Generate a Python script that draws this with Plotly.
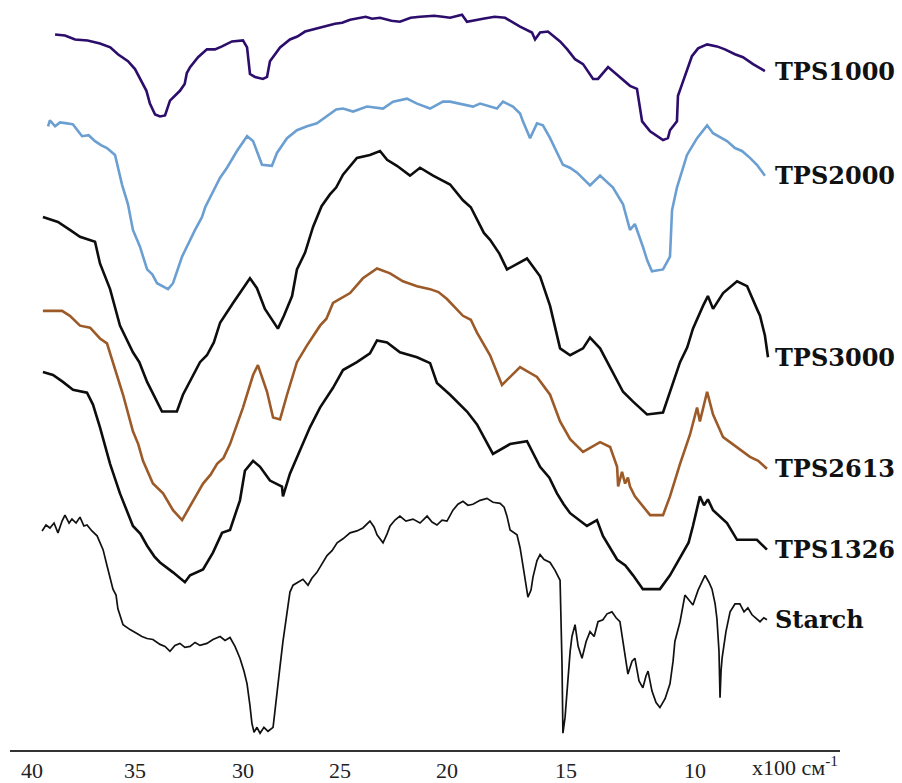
import numpy as np
import plotly.graph_objects as go

# Wavenumber axis (x100 cm^-1) and where each labelled tick sits along the axis (fraction of its length)
TICK_WN = [40, 35, 30, 25, 20, 15, 10]
TICK_FRAC = [0.0265, 0.1506, 0.2807, 0.3976, 0.5265, 0.6699, 0.8253]

# FTIR transmittance traces (arbitrary units, stacked)
TPS1000_WN = [38.88, 38.40, 37.91, 37.30, 36.70, 36.20, 35.83, 35.34, 35.00, 34.63, 34.47, 34.31, 34.07, 33.84,
              33.61, 33.38, 32.92, 32.70, 32.60, 32.45, 32.08, 31.67, 31.30, 30.97, 30.51, 30.00, 29.79, 29.64,
              29.38, 28.97, 28.76, 28.61, 28.09, 27.58, 27.20, 26.80, 26.40, 26.03, 25.26, 24.90, 24.53, 23.80,
              23.50, 23.13, 22.60, 22.20, 21.70, 21.26, 20.60, 20.20, 19.87, 19.37, 19.16, 18.49, 18.00, 17.56,
              16.93, 16.43, 16.30, 16.09, 15.76, 15.25, 14.95, 14.65, 14.34, 13.95, 13.76, 13.37, 12.98, 12.52,
              12.25, 12.05, 11.74, 11.47, 11.24, 11.05, 10.97, 10.70, 10.66, 10.47, 10.31, 10.12, 9.88, 9.53,
              9.15, 8.84, 8.45, 8.14, 7.75, 7.29]
TPS1000_T = [72.5, 72.4, 72.0, 71.9, 71.6, 71.2, 70.5, 69.8, 69.0, 67.5, 66.8, 65.5, 64.4, 64.2,
             64.3, 65.8, 66.8, 67.5, 68.6, 69.2, 70.2, 71.0, 71.0, 71.3, 71.8, 71.9, 71.2, 68.5,
             68.2, 68.0, 68.2, 69.8, 71.2, 72.0, 72.3, 72.8, 73.0, 73.2, 73.6, 73.7, 74.0, 74.3,
             74.1, 74.2, 73.9, 73.8, 74.2, 74.3, 74.4, 74.3, 74.2, 74.5, 73.8, 74.1, 74.3, 74.2,
             73.3, 72.7, 72.0, 72.7, 72.8, 71.8, 71.0, 70.0, 69.5, 68.0, 68.0, 69.2, 68.3, 67.3,
             67.0, 63.7, 62.7, 62.2, 61.8, 62.0, 62.8, 63.7, 66.3, 67.7, 69.0, 70.3, 71.1, 71.5,
             71.3, 71.0, 70.5, 70.2, 69.5, 68.8]

TPS2000_WN = [39.22, 39.13, 38.88, 38.64, 38.30, 38.01, 37.57, 37.25, 36.94, 36.65, 36.36, 35.97, 35.63, 35.34,
              35.10, 34.77, 34.44, 34.20, 33.98, 33.47, 33.24, 32.82, 32.22, 31.90, 31.75, 31.53, 31.06, 30.74,
              30.28, 29.79, 29.48, 29.02, 28.51, 28.25, 27.73, 27.22, 26.70, 26.19, 25.52, 25.20, 24.86, 24.39,
              23.74, 22.99, 22.52, 21.87, 21.40, 20.79, 20.19, 19.87, 18.91, 18.61, 17.90, 17.65, 17.23, 16.93,
              16.81, 16.51, 16.22, 15.97, 15.67, 15.13, 14.85, 14.57, 14.07, 13.68, 13.18, 12.79, 12.52, 12.33,
              12.02, 11.85, 11.67, 11.24, 10.97, 10.89, 10.70, 10.31, 9.92, 9.53, 9.30, 8.76, 8.45, 8.18,
              7.87, 7.60, 7.29]
TPS2000_T = [63.2, 63.8, 63.2, 63.6, 63.5, 63.4, 62.2, 62.3, 61.7, 61.3, 61.0, 60.3, 57.3, 55.3,
             52.7, 51.0, 48.7, 48.2, 47.3, 46.7, 47.3, 50.0, 52.7, 54.0, 55.0, 56.0, 58.0, 59.0,
             60.7, 62.2, 61.7, 59.3, 59.2, 60.5, 62.0, 62.8, 63.2, 63.5, 64.5, 64.9, 65.0, 64.7,
             65.2, 65.0, 65.7, 66.0, 65.5, 65.0, 65.7, 65.7, 65.2, 65.5, 65.0, 65.7, 65.2, 64.5,
             63.7, 62.0, 63.5, 63.3, 62.0, 59.3, 59.0, 58.5, 57.2, 58.2, 57.0, 55.3, 52.7, 53.3,
             51.0, 49.6, 48.5, 48.7, 50.0, 54.7, 57.0, 60.3, 62.0, 63.3, 62.5, 61.7, 61.0, 60.7,
             60.0, 59.3, 58.2]

TPS3000_WN = [39.47, 38.74, 38.16, 37.67, 36.94, 36.70, 36.21, 35.87, 35.73, 35.10, 34.80, 34.44, 34.07, 33.75,
              33.06, 32.78, 31.99, 31.67, 31.35, 31.06, 30.46, 30.14, 29.64, 29.28, 28.87, 28.20, 27.89, 27.47,
              27.22, 26.80, 26.39, 25.95, 25.52, 25.20, 24.86, 24.21, 23.60, 23.13, 22.80, 22.34, 21.73, 21.26,
              20.65, 19.87, 19.33, 19.00, 18.74, 18.45, 18.19, 17.80, 17.48, 16.64, 16.09, 15.67, 15.25, 14.84,
              14.34, 14.07, 13.68, 13.18, 12.79, 12.40, 11.86, 11.24, 10.97, 10.58, 10.30, 10.08, 9.69, 9.50,
              9.30, 8.91, 8.37, 7.98, 7.60, 7.48, 7.29, 7.17]
TPS3000_T = [54.0, 53.5, 52.7, 52.0, 51.5, 49.3, 46.7, 44.2, 43.0, 40.3, 39.3, 37.3, 35.7, 34.3,
             34.3, 36.0, 39.3, 40.0, 41.3, 43.3, 45.3, 46.3, 47.8, 46.8, 44.7, 42.7, 44.0, 46.0,
             48.7, 50.4, 53.0, 55.1, 56.3, 57.0, 58.3, 60.0, 60.3, 60.7, 59.8, 59.2, 58.2, 59.0,
             58.2, 57.3, 55.7, 55.0, 53.7, 52.4, 51.7, 50.3, 48.7, 49.8, 48.0, 45.0, 40.7, 40.0,
             40.7, 41.8, 40.7, 38.2, 36.3, 35.3, 34.0, 34.2, 36.3, 39.3, 40.8, 42.7, 45.0, 46.0,
             44.7, 46.3, 47.5, 47.0, 44.7, 44.0, 42.0, 39.8]

TPS2613_WN = [39.47, 38.54, 38.16, 37.67, 37.18, 36.70, 36.36, 35.97, 35.58, 35.10, 34.85, 34.63, 34.17, 33.70,
              33.24, 32.82, 32.45, 31.85, 31.50, 31.20, 30.90, 30.60, 30.00, 29.48, 29.23, 28.76, 28.45, 28.09,
              27.73, 27.22, 26.70, 26.03, 25.70, 25.36, 24.53, 23.93, 23.27, 22.66, 22.06, 21.40, 20.79, 20.40,
              20.00, 19.33, 19.00, 18.74, 18.19, 17.69, 16.93, 16.22, 15.67, 15.25, 14.84, 14.34, 13.68, 13.29,
              13.02, 12.98, 12.83, 12.71, 12.60, 12.52, 12.33, 11.74, 11.24, 10.97, 10.58, 10.19, 9.92, 9.81,
              9.53, 9.30, 8.91, 8.37, 7.87, 7.55, 7.21]
TPS2613_T = [44.5, 44.5, 44.0, 43.0, 42.8, 41.7, 41.2, 38.7, 36.0, 32.3, 31.0, 29.3, 27.0, 26.0,
             24.3, 23.3, 24.7, 27.0, 27.9, 29.0, 29.6, 31.0, 34.7, 38.0, 39.0, 36.3, 33.7, 33.5,
             36.0, 39.3, 41.0, 43.0, 43.7, 45.3, 46.3, 47.8, 48.8, 48.3, 47.5, 47.0, 46.7, 46.4,
             45.7, 44.0, 43.6, 42.3, 40.0, 37.0, 38.8, 37.8, 36.0, 33.3, 31.5, 30.2, 31.2, 30.7,
             28.7, 26.7, 28.2, 27.0, 27.6, 26.7, 25.7, 23.8, 23.8, 25.7, 29.0, 32.0, 34.7, 33.3,
             36.3, 34.0, 31.7, 30.7, 29.7, 29.3, 28.5]

TPS1326_WN = [39.47, 38.98, 38.50, 38.01, 37.33, 37.04, 36.70, 36.21, 35.73, 35.10, 34.75, 34.44, 34.10, 33.84,
              33.24, 32.69, 32.45, 31.85, 31.39, 30.97, 30.60, 30.14, 29.90, 29.48, 29.12, 28.61, 27.99, 27.94,
              27.58, 27.06, 26.55, 26.03, 25.36, 24.86, 24.21, 23.60, 23.27, 22.80, 22.20, 21.40, 20.79, 20.47,
              19.87, 19.16, 18.74, 18.07, 17.35, 16.64, 16.09, 15.70, 15.38, 15.10, 14.84, 14.19, 13.80, 13.57,
              13.02, 12.70, 12.40, 12.02, 11.36, 10.97, 10.47, 10.25, 10.08, 9.81, 9.65, 9.50, 9.30, 8.76,
              8.37, 7.60, 7.21]
TPS1326_T = [38.3, 38.0, 37.3, 36.5, 36.2, 35.0, 32.7, 29.0, 26.0, 22.7, 21.9, 20.7, 19.6, 19.0,
             18.0, 17.0, 17.7, 18.3, 20.0, 22.0, 22.3, 25.3, 28.3, 29.3, 28.7, 27.3, 26.7, 25.7,
             28.0, 30.3, 32.7, 34.7, 36.7, 38.5, 39.3, 40.2, 41.5, 41.3, 40.3, 39.8, 39.2, 37.2,
             36.0, 34.3, 33.0, 30.0, 31.0, 31.3, 28.7, 27.6, 26.0, 24.9, 24.0, 22.7, 23.3, 21.7,
             19.3, 18.7, 17.7, 16.3, 16.3, 17.7, 20.0, 21.0, 22.7, 25.7, 24.8, 25.4, 24.3, 23.0,
             21.3, 21.3, 20.3]

STARCH_WN = [39.51, 39.32, 39.13, 38.93, 38.74, 38.54, 38.40, 38.20, 38.06, 37.86, 37.67, 37.48, 37.33, 37.09,
             36.84, 36.55, 36.36, 36.21, 36.07, 35.92, 35.83, 35.58, 35.24, 34.91, 34.68, 34.44, 34.17, 33.84,
             33.61, 33.38, 33.15, 32.92, 32.69, 32.45, 32.22, 31.99, 31.67, 31.39, 31.06, 30.83, 30.60, 30.37,
             30.14, 29.95, 29.79, 29.64, 29.54, 29.43, 29.28, 29.12, 28.92, 28.71, 28.45, 28.35, 28.25, 28.09,
             27.94, 27.73, 27.58, 27.42, 27.17, 26.91, 26.65, 26.45, 26.19, 25.93, 25.67, 25.41, 25.15, 24.86,
             24.53, 24.21, 23.93, 23.60, 23.41, 23.27, 22.99, 22.80, 22.66, 22.43, 22.20, 21.92, 21.59, 21.26,
             20.93, 20.70, 20.47, 20.23, 20.00, 19.75, 19.54, 19.33, 19.12, 18.91, 18.61, 18.32, 18.07, 17.77,
             17.60, 17.48, 17.35, 17.06, 16.93, 16.81, 16.68, 16.60, 16.47, 16.39, 16.22, 16.09, 15.92, 15.67,
             15.46, 15.25, 15.17, 15.13, 15.04, 14.96, 14.84, 14.77, 14.65, 14.53, 14.38, 14.22, 14.07, 13.91,
             13.76, 13.57, 13.41, 13.22, 13.06, 12.91, 12.75, 12.60, 12.44, 12.33, 12.17, 12.02, 11.90, 11.82,
             11.67, 11.51, 11.36, 11.16, 10.97, 10.85, 10.78, 10.58, 10.39, 10.23, 10.08, 9.88, 9.61, 9.46,
             9.34, 9.22, 9.15, 9.07, 9.03, 8.99, 8.95, 8.80, 8.64, 8.45, 8.26, 8.10, 7.95, 7.79, 7.64, 7.48,
             7.33, 7.21]
STARCH_T = [22.2, 22.8, 22.5, 23.0, 22.0, 23.2, 23.8, 23.0, 23.4, 23.0, 23.6, 22.7, 22.8, 22.2,
            21.7, 20.3, 18.7, 17.5, 16.3, 15.7, 14.3, 12.7, 12.2, 11.8, 11.5, 11.3, 11.2, 10.7,
            10.5, 10.0, 10.6, 10.8, 10.4, 10.5, 10.9, 10.6, 10.8, 11.2, 11.5, 11.1, 11.4, 10.5,
            9.3, 8.0, 6.7, 4.5, 2.7, 1.8, 2.3, 1.7, 2.3, 1.9, 2.3, 4.0, 6.0, 8.5,
            11.0, 14.0, 16.0, 16.7, 17.0, 17.3, 16.7, 17.4, 18.0, 18.8, 19.7, 20.2, 21.0, 21.4,
            22.0, 22.2, 22.5, 23.2, 22.6, 21.8, 21.0, 21.9, 22.7, 23.3, 23.7, 23.2, 23.4, 23.0,
            23.7, 23.1, 22.8, 23.3, 23.2, 24.3, 24.9, 25.2, 24.8, 24.9, 25.3, 25.5, 25.1, 25.0,
            24.6, 23.7, 22.3, 21.8, 20.5, 18.7, 16.8, 15.5, 16.2, 17.5, 19.2, 19.8, 19.3, 19.0,
            18.2, 17.2, 9.0, 1.7, 3.3, 6.0, 10.0, 11.5, 12.7, 10.5, 9.3, 11.0, 12.0, 11.5,
            13.0, 13.2, 13.8, 14.0, 13.4, 13.0, 10.5, 7.7, 9.0, 9.3, 7.0, 6.3, 7.5, 8.0,
            6.0, 4.8, 4.3, 5.2, 6.7, 9.0, 11.0, 13.0, 15.7, 15.2, 14.7, 16.2, 17.7, 17.0,
            16.3, 14.8, 13.3, 10.0, 5.3, 8.0, 9.3, 12.0, 14.0, 14.8, 14.8, 14.0, 14.4, 13.7, 13.4, 13.0,
            13.4, 13.2]

SERIES = [
    ("TPS1000", TPS1000_WN, TPS1000_T, "#2c0d6b", 2.6),
    ("TPS2000", TPS2000_WN, TPS2000_T, "#6b9fd1", 2.6),
    ("TPS3000", TPS3000_WN, TPS3000_T, "#0d0d0d", 2.6),
    ("TPS2613", TPS2613_WN, TPS2613_T, "#9b5a28", 2.6),
    ("TPS1326", TPS1326_WN, TPS1326_T, "#0d0d0d", 2.6),
    ("Starch", STARCH_WN, STARCH_T, "#111111", 1.7),
]


def wn_to_axis(wn):
    """Piecewise-linear wavenumber scale used by the printed axis (decreasing to the right)."""
    wn = np.asarray(wn, dtype=float)
    tw = np.asarray(TICK_WN, dtype=float)
    tf = np.asarray(TICK_FRAC, dtype=float)
    pos = np.interp(-wn, -tw, tf)
    lo_slope = (tf[-1] - tf[-2]) / (tw[-2] - tw[-1])
    hi_slope = (tf[1] - tf[0]) / (tw[0] - tw[1])
    pos = np.where(wn < tw[-1], tf[-1] + (tw[-1] - wn) * lo_slope, pos)
    pos = np.where(wn > tw[0], tf[0] - (wn - tw[0]) * hi_slope, pos)
    return pos


fig = go.Figure()
for name, wn, t, color, width in SERIES:
    fig.add_trace(go.Scatter(
        x=wn_to_axis(wn), y=t, mode="lines", name=name,
        line=dict(color=color, width=width),
        customdata=wn,
        hovertemplate=name + ": %{customdata:.2f}×100 cm⁻¹<extra></extra>",
    ))
    # series label just right of the trace end
    fig.add_annotation(
        x=0.919, xref="paper", y=t[-1], yref="y",
        text=f"<b>{name}</b>", showarrow=False, xanchor="left", yanchor="middle",
        font=dict(family="DejaVu Serif", size=24, color="#111111"),
    )

fig.add_annotation(
    x=0.946, xref="paper", y=-0.021, yref="paper",
    text="x100 см<sup>-1</sup>", showarrow=False, xanchor="center", yanchor="middle",
    font=dict(family="Liberation Serif", size=22, color="#222222"),
)

fig.update_layout(
    width=902, height=783,
    margin=dict(l=10, r=62, t=0, b=23),
    paper_bgcolor="white", plot_bgcolor="white",
    showlegend=False,
    xaxis=dict(
        range=[0, 1], tickvals=wn_to_axis(TICK_WN).tolist(), ticktext=[str(v) for v in TICK_WN],
        showgrid=False, zeroline=False, showline=True, linecolor="#333333", linewidth=1.5,
        ticks="", tickfont=dict(family="Liberation Serif", size=22, color="#222222"),
    ),
    yaxis=dict(range=[0, 76], visible=False),
)

fig.write_html("out.html")
